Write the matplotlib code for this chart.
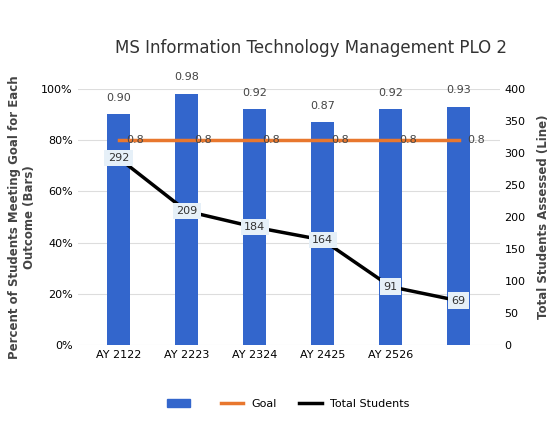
import matplotlib
matplotlib.use("Agg")
import matplotlib.pyplot as plt
import numpy as np

categories = ["AY 2122", "AY 2223", "AY 2324", "AY 2425", "AY 2526", ""]
pct = [0.90, 0.98, 0.92, 0.87, 0.92, 0.93]
goal = [0.8] * 6
students = [292, 209, 184, 164, 91, 69]

fig = plt.figure(figsize=(5.55, 4.44), dpi=100)
ax = fig.add_axes([0.14, 0.223, 0.76, 0.577])
x = np.arange(len(categories))
ax.bar(x, pct, width=0.33, color="#3366CC", zorder=2)
ax.plot(x, goal, color="#E8772E", lw=2.5, zorder=3)
for xi, v in zip(x, pct):
    ax.text(xi, v + 0.045, f"{v:.2f}", ha="center", va="bottom", fontsize=8, color="#444")
for xi, v in zip(x, goal):
    ax.text(xi + 0.12, v, f"{v}", ha="left", va="center", fontsize=8, color="#444", zorder=5)
ax.set_ylim(0, 1.0)
ax.set_xlim(-0.6, 5.6)
ax.set_yticks(np.arange(0, 1.01, 0.2))
ax.set_yticklabels([f"{int(t*100)}%" for t in np.arange(0, 1.01, 0.2)], fontsize=8)
ax.set_xticks(x)
ax.set_xticklabels(categories, fontsize=8)
ax.tick_params(length=0)
ax.grid(axis="y", color="#ddd", lw=0.8, zorder=0)
for s in ax.spines.values():
    s.set_visible(False)
ax.set_ylabel("Percent of Students Meeting Goal for Each\nOutcome (Bars)", fontsize=8.5, color="#444", fontweight="bold")

ax2 = ax.twinx()
ax2.plot(x, students, color="black", lw=2.5, zorder=4)
for xi, v in zip(x, students):
    ax2.text(xi, v, str(v), ha="center", va="center", fontsize=8, color="#333",
             bbox=dict(boxstyle="square,pad=0.3", fc="#E6F0F8", ec="none"), zorder=6)
ax2.set_ylim(0, 400)
ax2.set_yticks(range(0, 401, 50))
ax2.tick_params(length=0, labelsize=8)
for s in ax2.spines.values():
    s.set_visible(False)
ax2.set_ylabel("Total Students Assessed (Line)", fontsize=8.5, color="#444", fontweight="bold", labelpad=8)

fig.text(0.56, 0.88, "MS Information Technology Management PLO 2", ha="center", fontsize=12, color="#333")

from matplotlib.patches import Patch
from matplotlib.lines import Line2D
handles = [Patch(color="#3366CC", label=""),
           Line2D([], [], color="#E8772E", lw=2.5, label="Goal"),
           Line2D([], [], color="black", lw=2.5, label="Total Students")]
fig.legend(handles=handles, loc="center", bbox_to_anchor=(0.52, 0.09), ncol=3, frameon=False, fontsize=8)
fig.savefig("out.png", dpi=100)
